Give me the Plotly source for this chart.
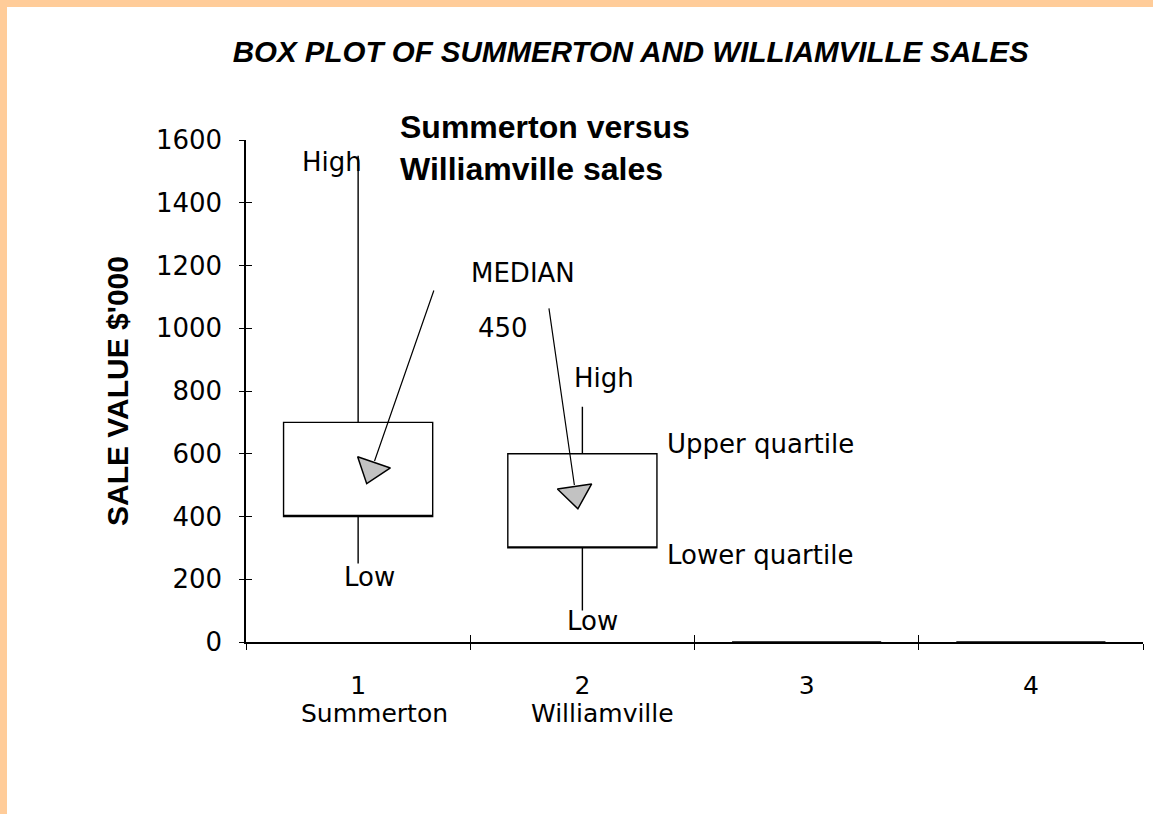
import plotly.graph_objects as go

# ---------------- data ----------------
categories = [1, 2, 3, 4]
category_labels = ["1", "2", "3", "4"]
town_names = ["Summerton", "Williamville"]
lower_quartile = [400, 300, 0, 0]
upper_quartile = [700, 600, 0, 0]
low_values = [250, 100, 0, 0]
high_values = [1550, 750, 0, 0]
# median pointers (triangle position) and the tails of their arrows
median_marker_x = [1.06, 1.97]
median_marker_y = [550, 472]
arrow_tail_x = [1.34, 1.85]
arrow_tail_y = [1125, 1068]
y_tick_values = [0, 200, 400, 600, 800, 1000, 1200, 1400, 1600]

# ---------------- style ----------------
BOX_WIDTH = 0.665
TEXT_FONT = "DejaVu Sans"
BOLD_FONT = "Liberation Sans, Arial, sans-serif"
boundaries = [c - 0.5 for c in categories] + [categories[-1] + 0.5]

fig = go.Figure()

fig.add_trace(go.Box(
    x=categories,
    q1=lower_quartile,
    median=lower_quartile,  # median shown by the pointer arrows, not a line
    q3=upper_quartile,
    lowerfence=low_values,
    upperfence=high_values,
    width=BOX_WIDTH,
    whiskerwidth=0,
    fillcolor="white",
    line=dict(color="black", width=1.4),
    boxpoints=False,
    hoverinfo="skip",
    showlegend=False,
))

fig.add_trace(go.Scatter(
    x=median_marker_x,
    y=median_marker_y,
    mode="markers",
    marker=dict(symbol="triangle-down", size=30, angle=[19, -8.5],
                color="#c2c2c2", line=dict(color="black", width=1.5)),
    hoverinfo="skip",
    showlegend=False,
))

# dummy trace for the overlay axes that carry the inner half of the tick marks
fig.add_trace(go.Scatter(x=[None], y=[None], xaxis="x2", yaxis="y2",
                         mode="markers", showlegend=False, hoverinfo="skip"))

annotations = []
# arrows from the MEDIAN label to the pointers
for tx, ty, hx, hy in zip(arrow_tail_x, arrow_tail_y, median_marker_x, median_marker_y):
    annotations.append(dict(x=hx, y=hy, ax=tx, ay=ty, xref="x", yref="y",
                            axref="x", ayref="y", text="", showarrow=True,
                            arrowhead=0, arrowwidth=1.2, arrowcolor="black",
                            standoff=9))

lab_font = dict(family=TEXT_FONT, size=26, color="black")
annotations += [
    dict(x=categories[0], y=high_values[0], text="High", xanchor="right", yanchor="middle",
         xshift=6, yshift=-6, showarrow=False, font=lab_font),
    dict(x=categories[0], y=low_values[0], text="Low", xanchor="center", yanchor="middle",
         xshift=11, yshift=-13, showarrow=False, font=lab_font),
    dict(x=categories[1], y=high_values[1], text="High", xanchor="center", yanchor="middle",
         xshift=22, yshift=29, showarrow=False, font=lab_font),
    dict(x=categories[1], y=low_values[1], text="Low", xanchor="center", yanchor="middle",
         xshift=10, yshift=-10, showarrow=False, font=lab_font),
    dict(x=categories[1] + BOX_WIDTH / 2, y=upper_quartile[1], text="Upper quartile",
         xanchor="left", yanchor="middle", xshift=8, yshift=10, showarrow=False, font=lab_font),
    dict(x=categories[1] + BOX_WIDTH / 2, y=lower_quartile[1], text="Lower quartile",
         xanchor="left", yanchor="middle", xshift=8, yshift=-7, showarrow=False, font=lab_font),
    dict(x=1.735, y=1176, text="MEDIAN", xanchor="center", yanchor="middle",
         showarrow=False, font=lab_font),
    dict(x=1.646, y=1001, text="450", xanchor="center", yanchor="middle",
         showarrow=False, font=lab_font),
    dict(xref="paper", yref="paper", x=0.1695, y=1.066, xanchor="left", yanchor="top",
         align="left", text="<b>Summerton versus<br>Williamville sales</b>",
         showarrow=False, font=dict(family=BOLD_FONT, size=32, color="black")),
    dict(xref="paper", yref="paper", x=-0.1438, y=0.5, xanchor="center", yanchor="middle",
         textangle=-90, text="<b>SALE VALUE $'000</b>", showarrow=False,
         font=dict(family=BOLD_FONT, size=30, color="black")),
]
for c, name in zip(categories, town_names):
    annotations.append(dict(x=c, y=-0.142, xref="x", yref="paper", text=name,
                            xanchor="center", yanchor="middle", xshift=16 if c == 1 else 20,
                            showarrow=False, font=dict(family=TEXT_FONT, size=25, color="black")))

fig.update_layout(
    width=1153, height=814,
    margin=dict(l=246, r=10, t=140, b=172, autoexpand=False),
    paper_bgcolor="#FFCC99",
    plot_bgcolor="white",
    title=dict(text="<b><i>BOX PLOT OF SUMMERTON AND WILLIAMVILLE SALES</i></b>",
               x=0.547, xref="container", xanchor="center",
               y=1 - 52 / 814, yref="container", yanchor="middle",
               font=dict(family=BOLD_FONT, size=29.5, color="black")),
    shapes=[dict(type="rect", xref="paper", yref="paper", layer="below",
                 x0=(7 - 246) / 897, x1=1.5, y0=-1.0, y1=(642 - 7) / 502,
                 fillcolor="white", line=dict(width=0))],
    annotations=annotations,
    xaxis=dict(range=[0.5, 4.5], tickmode="array", tickvals=categories,
               ticktext=category_labels, ticks="", showgrid=False, zeroline=False,
               showline=True, linecolor="black", linewidth=2, automargin=False,
               tickfont=dict(family=TEXT_FONT, size=25, color="black"),
               ticklabelstandoff=20,
               minor=dict(tickmode="array", tickvals=boundaries, ticks="outside",
                          ticklen=6, tickwidth=1.2, tickcolor="black", showgrid=False)),
    xaxis2=dict(overlaying="x", anchor="y", side="bottom", range=[0.5, 4.5],
                tickmode="array", tickvals=boundaries, ticks="inside", ticklen=7,
                tickwidth=1.2, tickcolor="black", showticklabels=False, automargin=False,
                showline=False, showgrid=False, zeroline=False),
    yaxis=dict(range=[0, 1600], tickmode="array", tickvals=y_tick_values,
               ticks="outside", ticklen=5, tickwidth=1.2, tickcolor="black",
               showgrid=False, zeroline=False, showline=True, linecolor="black",
               linewidth=1.5, ticklabelstandoff=12, automargin=False,
               tickfont=dict(family=TEXT_FONT, size=26, color="black")),
    yaxis2=dict(overlaying="y", anchor="x", side="left", range=[0, 1600],
                tickmode="array", tickvals=y_tick_values, ticks="inside", ticklen=6,
                tickwidth=1.2, tickcolor="black", showticklabels=False, automargin=False,
                showline=False, showgrid=False, zeroline=False),
)

fig.write_html("out.html", config={"displayModeBar": False},
               post_script="document.body.style.margin='0';")
